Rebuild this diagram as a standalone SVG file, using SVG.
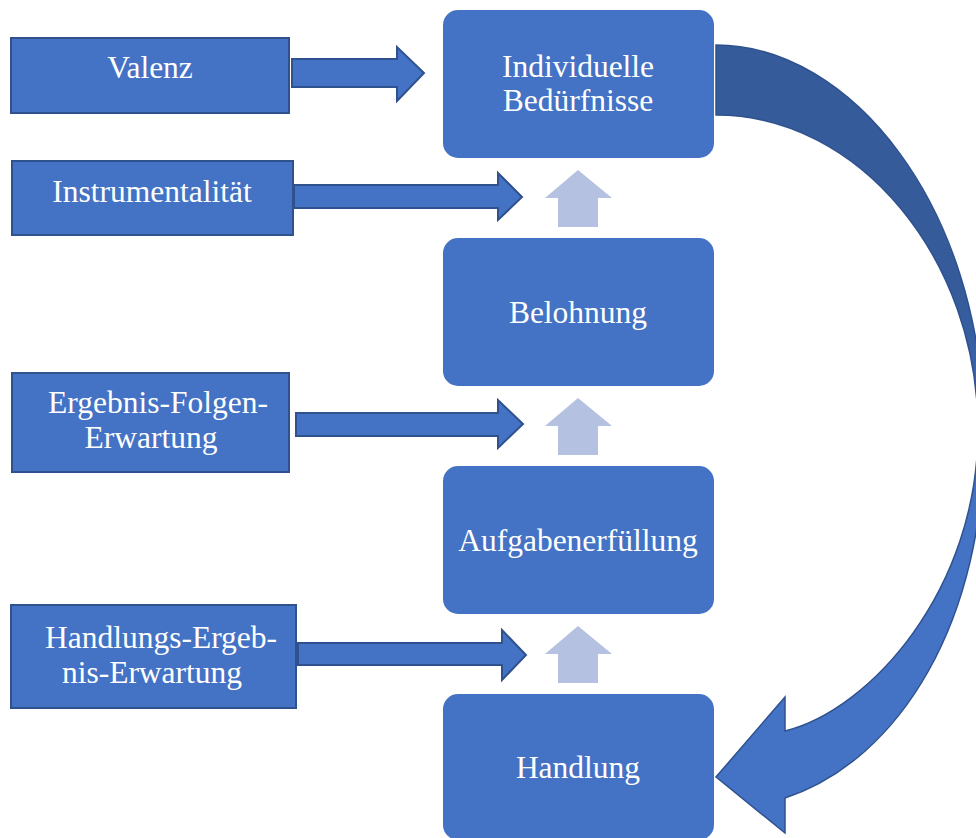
<svg xmlns="http://www.w3.org/2000/svg" width="976" height="838" viewBox="0 0 976 838">
  <defs>
    <linearGradient id="loopFill" gradientUnits="userSpaceOnUse" x1="0" y1="300" x2="0" y2="520">
      <stop offset="0" stop-color="#355b9a"/>
      <stop offset="1" stop-color="#4472c4"/>
    </linearGradient>
    <style>
      .factor { fill: #4472c4; stroke: #2f528f; stroke-width: 2; }
      .step { fill: #4472c4; }
      .push { fill: #4472c4; stroke: #2f528f; stroke-width: 2; stroke-linejoin: miter; }
      .rise { fill: #b4c1e1; }
      .loop { fill: url(#loopFill); stroke: #2f528f; stroke-width: 1.5; }
      text { font-family: "Liberation Serif", "Times New Roman", serif; fill: #ffffff; text-anchor: middle; font-size: 31.5px; }
    </style>
  </defs>

  <rect width="976" height="838" fill="#ffffff"/>

  <!-- influencing factors (left column) -->
  <g id="valenz">
    <rect class="factor" x="11" y="38" width="278" height="75"/>
    <text x="150" y="78">Valenz</text>
  </g>
  <g id="instrumentalitaet">
    <rect class="factor" x="12" y="161" width="281" height="74"/>
    <text x="152" y="202">Instrumentalität</text>
  </g>
  <g id="ergebnis-folgen">
    <rect class="factor" x="12" y="373" width="277" height="99"/>
    <text x="158" y="413">Ergebnis-Folgen-</text>
    <text x="151" y="448">Erwartung</text>
  </g>
  <g id="handlungs-ergebnis">
    <rect class="factor" x="11" y="605" width="285" height="103"/>
    <text x="161" y="648">Handlungs-Ergeb-</text>
    <text x="152" y="683">nis-Erwartung</text>
  </g>

  <!-- process steps (right column) -->
  <g id="beduerfnisse">
    <rect class="step" x="443" y="10" width="271" height="148" rx="15"/>
    <text x="578" y="77">Individuelle</text>
    <text x="578" y="111">Bedürfnisse</text>
  </g>
  <g id="belohnung">
    <rect class="step" x="443" y="238" width="271" height="148" rx="15"/>
    <text x="578" y="323">Belohnung</text>
  </g>
  <g id="aufgabenerfuellung">
    <rect class="step" x="443" y="466" width="271" height="148" rx="15"/>
    <text x="578" y="551">Aufgabenerfüllung</text>
  </g>
  <g id="handlung">
    <rect class="step" x="443" y="694" width="271" height="146" rx="15"/>
    <text x="578" y="778">Handlung</text>
  </g>

  <!-- connectors -->
  <g id="connectors">
    <!-- block arrows from factors -->
    <path class="push" d="M292,59 H397 V47 L424,73 L397,101 V87 H292 Z"/>
    <path class="push" d="M294,185 H498 V173 L522,197 L498,220 V208 H294 Z"/>
    <path class="push" d="M296,413 H498 V400 L523,424 L498,448 V436 H296 Z"/>
    <path class="push" d="M298,643 H502 V630 L526,655 L502,680 V665 H298 Z"/>

    <!-- upward steps -->
    <path class="rise" d="M578,170 L612,198 H598 V227 H558 V198 H545 Z"/>
    <path class="rise" d="M578,398 L612,426 H598 V455 H558 V426 H545 Z"/>
    <path class="rise" d="M578,626 L612,654 H598 V683 H558 V654 H545 Z"/>

    <!-- feedback loop from needs back to action -->
    <path class="loop" d="M716,45 C850,45 982,205 984,430 C986,620 900,760 785,798 L785,833 L716,777 L785,697 L785,731 C870,710 978,590 978,430 C978,260 860,115 716,115 Z"/>
  </g>
</svg>
